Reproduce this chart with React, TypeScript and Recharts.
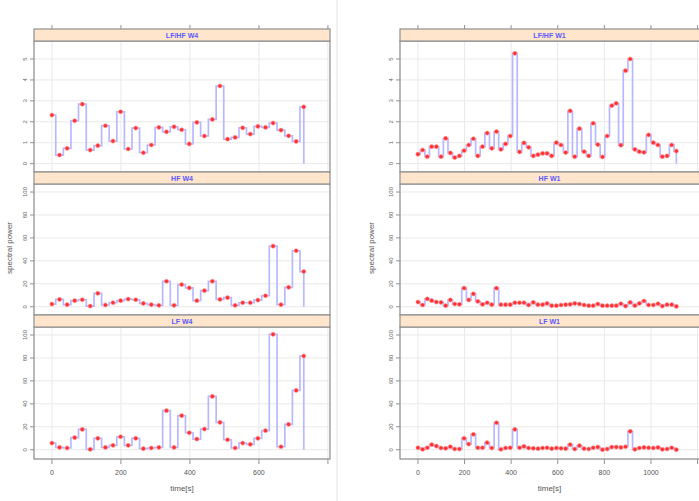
import { LineChart, Line, XAxis, YAxis, CartesianGrid } from "recharts";

// sample times (s)
const timeW4 = [0, 22, 44, 66, 88, 111, 133, 155, 177, 199, 221, 243, 265, 288, 310, 332, 354, 376, 398, 420, 442, 465, 487, 509, 531, 553, 575, 597, 619, 641, 664, 686, 708, 730];
const timeW1 = [0, 20, 40, 59, 79, 99, 119, 139, 158, 178, 198, 218, 238, 257, 277, 297, 317, 337, 356, 376, 396, 416, 436, 455, 475, 495, 515, 535, 554, 574, 594, 614, 634, 653, 673, 693, 713, 733, 752, 772, 792, 812, 832, 851, 871, 891, 911, 931, 950, 970, 990, 1010, 1030, 1049, 1069, 1089, 1109];

// W4 series
const lfhfW4 = [2.32, 0.41, 0.73, 2.05, 2.84, 0.65, 0.86, 1.81, 1.08, 2.48, 0.7, 1.7, 0.52, 0.89, 1.73, 1.52, 1.76, 1.62, 0.94, 1.97, 1.32, 2.11, 3.71, 1.17, 1.25, 1.71, 1.41, 1.78, 1.73, 1.94, 1.6, 1.33, 1.06, 2.71];
const hfW4 = [2.3, 6.4, 1.8, 5.3, 6.1, 0.6, 11.7, 1.5, 3.5, 5.3, 6.7, 6.1, 2.9, 1.8, 1.2, 22.2, 1.2, 19.3, 16.4, 5.3, 14.0, 22.2, 6.4, 7.9, 1.2, 3.5, 3.5, 5.8, 9.6, 52.8, 1.8, 16.9, 48.8, 30.7];
const lfW4 = [5.8, 2.0, 1.5, 10.5, 17.7, 0.3, 9.9, 2.0, 3.8, 11.3, 3.8, 9.9, 0.9, 1.5, 2.0, 34.0, 2.0, 29.7, 14.8, 9.3, 18.0, 46.5, 23.8, 8.7, 1.5, 5.8, 4.7, 9.9, 16.6, 100.6, 2.6, 22.1, 51.7, 81.7];

// W1 series
const lfhfW1 = [0.45, 0.65, 0.33, 0.81, 0.81, 0.33, 1.21, 0.51, 0.29, 0.37, 0.62, 0.89, 1.19, 0.37, 0.81, 1.46, 0.73, 1.53, 0.68, 0.94, 1.32, 5.27, 0.56, 0.99, 0.78, 0.37, 0.43, 0.49, 0.49, 0.37, 1.0, 0.89, 0.53, 2.52, 0.33, 1.67, 0.57, 0.37, 1.93, 0.91, 0.32, 1.32, 2.77, 2.88, 0.88, 4.44, 5.0, 0.68, 0.57, 0.54, 1.37, 1.0, 0.89, 0.33, 0.37, 0.89, 0.6];
const hfW1 = [4.1, 1.5, 6.8, 5.3, 4.1, 3.8, 0.9, 5.9, 2.4, 2.1, 16.2, 5.9, 11.2, 4.7, 2.1, 3.5, 1.8, 16.2, 1.8, 1.8, 1.8, 3.5, 3.5, 3.5, 1.5, 3.8, 1.8, 1.8, 2.9, 0.9, 0.9, 1.5, 1.8, 2.1, 2.9, 2.4, 1.5, 0.9, 0.9, 2.4, 0.9, 0.9, 0.9, 0.9, 2.6, 0.6, 3.8, 0.9, 2.9, 5.0, 1.5, 1.5, 2.6, 0.6, 1.8, 1.8, 0.3];
const lfW1 = [1.7, 0.3, 1.7, 4.4, 3.2, 1.5, 1.2, 2.6, 0.6, 0.6, 9.9, 4.9, 13.4, 1.7, 1.7, 6.1, 1.5, 23.5, 0.3, 1.5, 1.7, 17.7, 1.7, 2.9, 1.5, 1.2, 0.9, 1.5, 1.7, 0.9, 1.5, 1.2, 0.9, 4.4, 0.6, 3.5, 0.9, 0.6, 1.7, 2.3, 0.0, 0.6, 2.3, 2.3, 2.0, 2.6, 16.0, 0.3, 1.5, 2.0, 1.7, 1.5, 2.0, 0.3, 0.6, 1.7, 0.0];

const stripLabelsW4 = ["LF/HF W4", "HF W4", "LF W4"];
const stripLabelsW1 = ["LF/HF W1", "HF W1", "LF W1"];
const ratioTicks = [0, 1, 2, 3, 4, 5];
const powerTicks = [0, 20, 40, 60, 80, 100];
const xTicksW4 = [0, 200, 400, 600, 800];
const xTicksW1 = [0, 200, 400, 600, 800, 1000, 1200];

const FONT = "'Liberation Sans', Arial, sans-serif";
const AXIS_W = 34;
const TOP_AXIS_H = 16;
const BOTTOM_AXIS_H = 24;
const STRIP_H = 12;
const FRAME = "#8f8f8f";

type Pt = { t: number; v: number; end?: boolean };

function toRows(times: number[], values: number[]): Pt[] {
  const pts: Pt[] = values.map((v, i) => ({ t: times[i], v }));
  // trace falls back to zero after the last reading
  pts.push({ t: times[values.length - 1], v: 0, end: true });
  return pts;
}

const rows = [
  { strip: 29, top: 41, bottom: 172, yDomain: [-0.4, 5.86], yTicks: ratioTicks },
  { strip: 172, top: 184, bottom: 315, yDomain: [-7.2, 107], yTicks: powerTicks },
  { strip: 315, top: 327, bottom: 459, yDomain: [-8.1, 107], yTicks: powerTicks },
];

const cols = [
  {
    x0: 34, x1: 330, xDomain: [-52, 806], xTicks: xTicksW4, labelMax: 600,
    labels: stripLabelsW4, yTitleX: 12,
    series: [toRows(timeW4, lfhfW4), toRows(timeW4, hfW4), toRows(timeW4, lfW4)],
  },
  {
    x0: 400, x1: 702, xDomain: [-77, 1219], xTicks: xTicksW1, labelMax: 1000,
    labels: stripLabelsW1, yTitleX: 374,
    series: [toRows(timeW1, lfhfW1), toRows(timeW1, hfW1), toRows(timeW1, lfW1)],
  },
];

const renderDot = (p: any) => {
  const k = `d${p.index}`;
  if (p.payload?.end) return <g key={k} />;
  return <circle key={k} cx={p.cx} cy={p.cy} r={2.1} fill="#ff3030" stroke="#ffa0a0" strokeWidth={0.6} />;
};

const yTick = (p: any) => (
  <g>
    <line x1={AXIS_W - 4} x2={AXIS_W} y1={p.y} y2={p.y} stroke="#777" strokeWidth={0.8} />
    <text
      transform={`translate(${AXIS_W - 7},${p.y}) rotate(-90)`}
      textAnchor="middle"
      fontSize={6}
      fill="#666"
      fontFamily={FONT}
    >
      {p.payload.value}
    </text>
  </g>
);

const topTick = (p: any) => (
  <line x1={p.x} x2={p.x} y1={0} y2={4} stroke="#777" strokeWidth={0.8} />
);

const makeBottomTick = (plotH: number, labelMax: number) => (p: any) => (
  <g>
    <line x1={p.x} x2={p.x} y1={plotH} y2={plotH + 5} stroke="#777" strokeWidth={0.8} />
    {p.payload.value <= labelMax && (
      <text x={p.x} y={plotH + 16} textAnchor="middle" fontSize={7} fill="#555" fontFamily={FONT}>
        {p.payload.value}
      </text>
    )}
  </g>
);

function Panel({ col, r }: { col: (typeof cols)[number]; r: number }) {
  const row = rows[r];
  const first = r === 0;
  const last = r === rows.length - 1;
  const plotW = col.x1 - col.x0;
  const plotH = row.bottom - row.top;
  const axisH = first ? TOP_AXIS_H : last ? BOTTOM_AXIS_H : 0;
  const chartTop = first ? row.top - TOP_AXIS_H : row.top;
  return (
    <div style={{ position: "absolute", left: col.x0 - AXIS_W, top: chartTop }}>
      <LineChart
        width={plotW + AXIS_W}
        height={plotH + axisH}
        data={col.series[r]}
        margin={{ top: 0, right: 0, bottom: 0, left: 0 }}
      >
        <CartesianGrid stroke="#e9e9e9" strokeWidth={1} />
        <XAxis
          dataKey="t"
          type="number"
          domain={col.xDomain as [number, number]}
          ticks={col.xTicks}
          interval={0}
          allowDataOverflow
          orientation={first ? "top" : "bottom"}
          height={axisH}
          axisLine={false}
          tickLine={false}
          tick={first ? topTick : last ? makeBottomTick(plotH, col.labelMax) : false}
        />
        <YAxis
          type="number"
          domain={row.yDomain as [number, number]}
          ticks={row.yTicks}
          interval={0}
          allowDataOverflow
          width={AXIS_W}
          axisLine={false}
          tickLine={false}
          tick={yTick}
        />
        <Line
          type="step"
          dataKey="v"
          stroke="#b8b8ff"
          strokeWidth={1.7}
          dot={renderDot}
          activeDot={false}
          isAnimationActive={false}
        />
      </LineChart>
    </div>
  );
}

export default function App() {
  return (
    <div
      style={{
        position: "absolute",
        left: 0,
        top: 0,
        width: 699,
        height: 501,
        overflow: "hidden",
        background: "#fff",
        fontFamily: FONT,
      }}
    >
      {cols.map((col, c) =>
        rows.map((_, r) => <Panel key={`${c}-${r}`} col={col} r={r} />)
      )}
      <svg width={699} height={501} style={{ position: "absolute", left: 0, top: 0, pointerEvents: "none" }}>
        <line x1={337} x2={337} y1={0} y2={501} stroke="#e4e4e4" strokeWidth={1} />
        {cols.map((col, c) => {
          const w = col.x1 - col.x0;
          const cx = (col.x0 + Math.min(col.x1, 699)) / 2;
          return (
            <g key={c}>
              {rows.map((row, r) => (
                <g key={r}>
                  <rect x={col.x0} y={row.top} width={w} height={row.bottom - row.top} fill="none" stroke={FRAME} strokeWidth={1.2} />
                  <rect x={col.x0} y={row.strip} width={w} height={STRIP_H} fill="#ffe5cc" stroke={FRAME} strokeWidth={1.2} />
                  <text x={cx} y={row.strip + STRIP_H / 2 + 2.5} textAnchor="middle" fontSize={7} fontWeight="bold" fill="#5a5aff" fontFamily={FONT}>
                    {col.labels[r]}
                  </text>
                </g>
              ))}
              <text
                transform={`translate(${col.yTitleX},248) rotate(-90)`}
                textAnchor="middle"
                fontSize={8}
                fill="#555"
                fontFamily={FONT}
              >
                spectral power
              </text>
              <text x={cx} y={491} textAnchor="middle" fontSize={8} fill="#555" fontFamily={FONT}>
                time[s]
              </text>
            </g>
          );
        })}
      </svg>
    </div>
  );
}
